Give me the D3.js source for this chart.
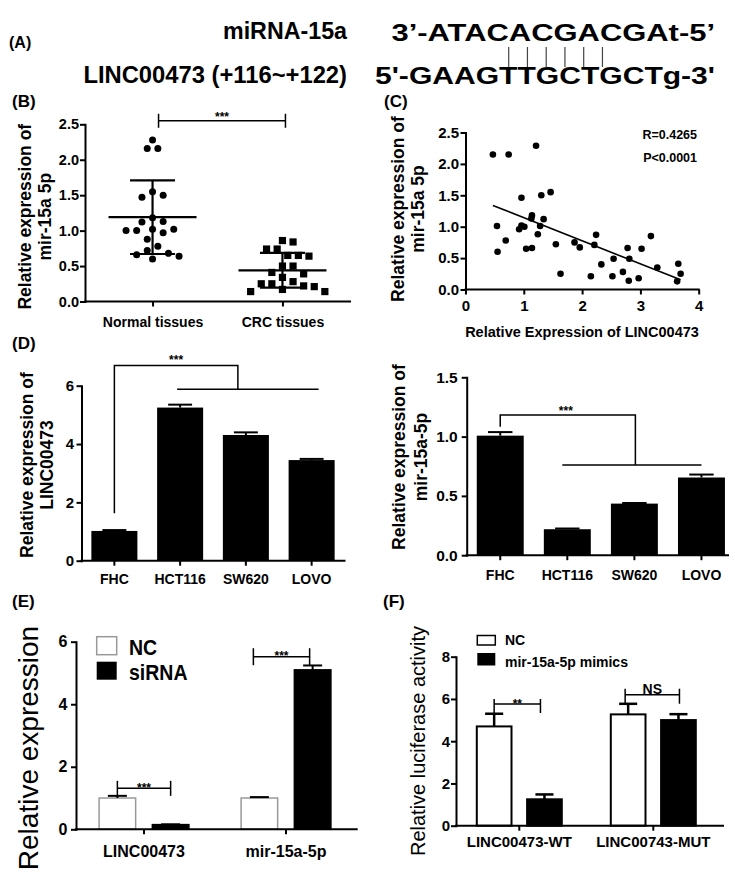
<!DOCTYPE html>
<html><head><meta charset="utf-8">
<script src="https://cdn.jsdelivr.net/npm/d3@7"></script>
<style>body{margin:0;background:#fff}svg{display:block}</style>
</head><body><svg id="c" width="735" height="873"></svg>
<script>
// ---------------- DATA ----------------
const miRNALabel = "miRNA-15a";
const lincLabel = "LINC00473 (+116~+122)";
const miRNASeq = "3’-ATACACGACGAt-5’";
const lincSeq = "5'-GAAGTTGCTGCTg-3'";
const pairCount = 6;

const tissueGroups = ["Normal tissues", "CRC tissues"];
const normalTissues = [2.28,2.16,2.16,1.55,1.50,1.47,1.18,1.13,1.12,1.02,1.02,1.00,1.00,0.97,0.88,0.78,0.72,0.68,0.66,0.64,0.60];
const crcTissues = [0.86,0.84,0.74,0.74,0.65,0.65,0.64,0.50,0.50,0.41,0.39,0.34,0.28,0.25,0.25,0.22,0.21,0.17,0.14,0.14];
const tissueMeans = [1.19, 0.44];
const tissueSDs = [0.52, 0.245];
const bTicks = [0, 0.5, 1.0, 1.5, 2.0, 2.5];

const corrX = [0.47,0.74,1.21,0.96,1.30,1.46,1.14,1.13,1.34,0.54,0.92,0.96,1.01,1.28,0.69,1.24,0.55,1.04,1.14,1.55,1.87,1.96,1.63,2.21,2.24,2.33,2.15,2.52,2.54,2.78,2.81,2.70,2.80,2.97,3.02,3.18,3.29,3.65,3.69,3.63];
const corrY = [2.15,2.15,2.29,1.46,1.50,1.55,1.18,1.13,1.12,1.01,0.96,1.02,1.00,1.01,0.78,0.88,0.60,0.65,0.66,0.72,0.75,0.67,0.25,0.71,0.87,0.40,0.21,0.21,0.49,0.66,0.49,0.28,0.14,0.18,0.65,0.85,0.35,0.41,0.25,0.13];
const fitSlope = -0.368, fitIntercept = 1.512;
const corrStats = ["R=0.4265", "P<0.0001"];
const cXTicks = [0,1,2,3,4];
const cYTicks = [0,0.5,1.0,1.5,2.0,2.5];

const cellLines = ["FHC","HCT116","SW620","LOVO"];
const lincExpr = [1.02, 5.25, 4.31, 3.45];
const lincErr  = [0.03, 0.10, 0.09, 0.04];
const mirExpr  = [1.008, 0.219, 0.435, 0.655];
const mirErr   = [0.03, 0.006, 0.005, 0.025];
const dLeftTicks = [0,2,4,6];
const dRightTicks = [0,0.5,1.0,1.5];

const eCategories = ["LINC00473","mir-15a-5p"];
const eSeries = ["NC","siRNA"];
const eNC = [1.0, 1.0], eNCErr = [0.07, 0.03];
const eSi = [0.15, 5.1], eSiErr = [0.01, 0.14];
const eTicks = [0,2,4,6];

const fCategories = ["LINC00473-WT","LINC00743-MUT"];
const fSeries = ["NC","mir-15a-5p mimics"];
const fNC = [4.7, 5.27], fNCErr = [0.6, 0.5];
const fMim = [1.25, 5.0], fMimErr = [0.23, 0.28];
const fTicks = [0,2,4,6,8];

// ---------------- HELPERS ----------------
const FONT = '"Liberation Sans", Arial, Helvetica, sans-serif';
const svg = d3.select("#c");
svg.append("rect").attr("width",735).attr("height",873).attr("fill","#fff");

function txt(g, x, y, s, fs, o = {}) {
  const t = g.append("text").attr("x",x).attr("y",y).text(s)
    .attr("font-size",fs).attr("font-family",FONT)
    .attr("font-weight", o.weight || "bold")
    .attr("text-anchor", o.anchor || "start").attr("fill","#000");
  if (o.len) t.attr("textLength",o.len).attr("lengthAdjust","spacingAndGlyphs");
  return t;
}
function vTitle(g, cx, cy, lines, fs, weight, gap) {
  lines.forEach((s,i) => {
    g.append("text").attr("transform",`translate(${cx + i*gap},${cy}) rotate(-90)`)
      .attr("text-anchor","middle").attr("dy","0.35em")
      .attr("font-size",fs).attr("font-family",FONT).attr("font-weight",weight)
      .attr("fill","#000").text(s);
  });
}
function styleAxis(a, fs) {
  a.attr("font-family",FONT).attr("font-size",fs).attr("font-weight","bold");
  a.selectAll("line").attr("stroke","#000").attr("stroke-width",2);
  a.selectAll(".domain").attr("stroke","#000").attr("stroke-width",2).attr("stroke-linecap","square");
  a.selectAll("text").attr("fill","#000");
}
function leftAxis(g, y, x, ticks, fmt, fs, pad) {
  const a = g.append("g").attr("transform",`translate(${x},0)`)
    .call(d3.axisLeft(y).tickValues(ticks).tickFormat(fmt).tickSize(5).tickSizeOuter(0).tickPadding(pad));
  styleAxis(a, fs);
}
function bottomAxis(g, gen, yPix, x0, x1, fs, pad) {
  const a = g.append("g").attr("transform",`translate(0,${yPix})`)
    .call(gen.tickSize(5).tickSizeOuter(0).tickPadding(pad));
  a.select(".domain").remove();
  a.append("line").attr("x1",x0).attr("x2",x1).attr("y1",0).attr("y2",0).attr("stroke-linecap","square");
  styleAxis(a, fs);
}
function line(g, x1, y1, x2, y2, sw = 2, col = "#000") {
  g.append("line").attr("x1",x1).attr("y1",y1).attr("x2",x2).attr("y2",y2)
    .attr("stroke",col).attr("stroke-width",sw);
}
function errBar(g, cx, yTop, yErr, capW, sw) {
  line(g, cx, yTop, cx, yErr, sw);
  line(g, cx - capW/2, yErr, cx + capW/2, yErr, sw);
}
function swarm(values, y, cx, step, minDist) {
  const placed = [], res = new Array(values.length);
  const order = values.map((v,i)=>i).sort((a,b)=>values[b]-values[a]);
  for (const i of order) {
    const py = y(values[i]);
    for (let k = 0; k < 60; k++) {
      const off = k === 0 ? 0 : (k % 2 ? Math.ceil(k/2) : -k/2) * step;
      const px = cx + off;
      if (placed.every(p => Math.hypot(p[0]-px, p[1]-py) >= minDist)) {
        placed.push([px,py]); res[i] = [px,py]; break;
      }
    }
  }
  return res;
}
function star(g, x, baseline, s, fs = 12) { txt(g, x, baseline, s, fs, {anchor:"middle"}); }

// ---------------- PANEL A ----------------
const gA = svg.append("g");
txt(gA, 9, 48, "(A)", 16);
txt(gA, 223, 39, miRNALabel, 24, {len:124});
txt(gA, 391.5, 41, miRNASeq, 24, {len:323.5});
txt(gA, 83.4, 83, lincLabel, 23, {len:263.6});
txt(gA, 375, 84.4, lincSeq, 23, {len:340});
d3.range(pairCount).forEach(i => {
  const x = 508.7 + i * 18.75;
  line(gA, x, 47, x, 67, 1.2, "#444");
});

// ---------------- PANEL B ----------------
const gB = svg.append("g");
txt(gB, 12, 107.4, "(B)", 17);
const yB = d3.scaleLinear().domain([0,2.5]).range([301.5,124.3]);
const xB = d3.scalePoint().domain(tissueGroups).range([85,350]).padding(0.52);
leftAxis(gB, yB, 85, bTicks, d3.format(".1f"), 14.5, 1);
bottomAxis(gB, d3.axisBottom(xB), 301.5, 85, 350, 14, 10.6);
vTitle(gB, 25, 216.7, ["Relative expression of","mir-15a 5p"], 17.5, "bold", 20);
swarm(normalTissues, yB, xB(tissueGroups[0]), 5.3, 10).forEach(p =>
  gB.append("circle").attr("cx",p[0]).attr("cy",p[1]).attr("r",3.5).attr("fill","#000"));
swarm(crcTissues, yB, xB(tissueGroups[1]), 5.3, 10).forEach(p =>
  gB.append("rect").attr("x",p[0]-3.6).attr("y",p[1]-3.6).attr("width",7.2).attr("height",7.2).attr("fill","#000"));
tissueGroups.forEach((grp,i) => {
  const cx = xB(grp), m = tissueMeans[i], s = tissueSDs[i];
  line(gB, cx-44, yB(m), cx+44, yB(m), 2.2);
  line(gB, cx, yB(m-s), cx, yB(m+s), 2.2);
  line(gB, cx-22.5, yB(m-s), cx+22.5, yB(m-s), 2.2);
  line(gB, cx-22.5, yB(m+s), cx+22.5, yB(m+s), 2.2);
});
{
  const by = yB(2.55), bx1 = xB(tissueGroups[0]) + 6, bx2 = xB(tissueGroups[1]) + 3;
  line(gB, bx1, by, bx2, by, 1.5);
  line(gB, bx1, by-7, bx1, by+7, 1.5);
  line(gB, bx2, by-7, bx2, by+7, 1.5);
  star(gB, (bx1+bx2)/2, by, "***");
}

// ---------------- PANEL C ----------------
const gC = svg.append("g");
txt(gC, 384, 107.4, "(C)", 17);
const xC = d3.scaleLinear().domain([0,4]).range([465.5,698.7]);
const yC = d3.scaleLinear().domain([0,2.5]).range([289.5,132.5]);
leftAxis(gC, yC, 465.5, cYTicks, d3.format(".1f"), 15, 1.5);
bottomAxis(gC, d3.axisBottom(xC).tickValues(cXTicks).tickFormat(d3.format("d")), 289.5, 465.5, 698.7, 15, 6.2);
vTitle(gC, 398.3, 209, ["Relative expression of","mir-15a 5p"], 17.5, "bold", 20);
txt(gC, 582, 337.2, "Relative Expression of LINC00473", 14.5, {anchor:"middle"});
corrX.forEach((xv,i) =>
  gC.append("circle").attr("cx",xC(xv)).attr("cy",yC(corrY[i])).attr("r",3.3).attr("fill","#000"));
{
  const [x0,x1] = d3.extent(corrX);
  line(gC, xC(x0), yC(fitIntercept + fitSlope*x0), xC(x1), yC(fitIntercept + fitSlope*x1), 1.6);
}
txt(gC, 697, 138.5, corrStats[0], 12.5, {anchor:"end"});
txt(gC, 697, 161.5, corrStats[1], 12.5, {anchor:"end"});

// ---------------- PANEL D (left) ----------------
const gD = svg.append("g");
txt(gD, 12, 349, "(D)", 17);
const xDL = d3.scaleBand().domain(cellLines).range([81.5,344.5]).paddingInner(0.3).paddingOuter(0.15);
const yDL = d3.scaleLinear().domain([0,6]).range([560.7,385.7]);
cellLines.forEach((c,i) => {
  gD.append("rect").attr("x",xDL(c)).attr("y",yDL(lincExpr[i])).attr("width",xDL.bandwidth())
    .attr("height",yDL(0)-yDL(lincExpr[i])).attr("fill","#000");
  errBar(gD, xDL(c)+xDL.bandwidth()/2, yDL(lincExpr[i]), yDL(lincExpr[i]+lincErr[i]), xDL.bandwidth()*0.52, 2);
});
leftAxis(gD, yDL, 81.5, dLeftTicks, d3.format("d"), 15, 2.5);
bottomAxis(gD, d3.axisBottom(xDL), 560.7, 81.5, 344.5, 14, 8.4);
vTitle(gD, 26.7, 465, ["Relative expression of","LINC00473"], 17.5, "bold", 20);
{
  const c = d => xDL(d) + xDL.bandwidth()/2;
  const y1 = yDL(6.69), y2 = yDL(5.88);
  const xl = c("FHC"), xr = c("SW620") - 8;
  gD.append("path").attr("d",`M${xl},${yDL(1.63)}V${y1}H${xr}V${y2}`).attr("fill","none").attr("stroke","#000").attr("stroke-width",1.5);
  line(gD, c("HCT116") - 3, y2, c("LOVO") + 7, y2, 1.5);
  star(gD, (xl+xr)/2, y1 - 2, "***");
}

// ---------------- PANEL D (right) ----------------
const gD2 = svg.append("g");
const xDR = d3.scaleBand().domain(cellLines).range([466.7,735]).paddingInner(0.3).paddingOuter(0.15);
const yDR = d3.scaleLinear().domain([0,1.5]).range([555.2,377.3]);
cellLines.forEach((c,i) => {
  gD2.append("rect").attr("x",xDR(c)).attr("y",yDR(mirExpr[i])).attr("width",xDR.bandwidth())
    .attr("height",yDR(0)-yDR(mirExpr[i])).attr("fill","#000");
  errBar(gD2, xDR(c)+xDR.bandwidth()/2, yDR(mirExpr[i]), yDR(mirExpr[i]+mirErr[i]), xDR.bandwidth()*0.52, 2);
});
leftAxis(gD2, yDR, 466.7, dRightTicks, d3.format(".1f"), 15.5, 4);
bottomAxis(gD2, d3.axisBottom(xDR), 555.2, 466.7, 728, 14, 9.9);
vTitle(gD2, 399, 457, ["Relative expression of","mir-15a-5p"], 17.5, "bold", 21.5);
{
  const c = d => xDR(d) + xDR.bandwidth()/2;
  const y1 = yDR(1.182), y2 = yDR(0.76);
  const xl = c("FHC"), xr = c("SW620") + 1;
  gD2.append("path").attr("d",`M${xl},${yDR(1.083)}V${y1}H${xr}V${y2}`).attr("fill","none").attr("stroke","#000").attr("stroke-width",1.5);
  line(gD2, c("HCT116") - 5, y2, c("LOVO"), y2, 1.5);
  star(gD2, (xl+xr)/2 - 2, y1, "***");
}

// ---------------- PANEL E ----------------
const gE = svg.append("g");
txt(gE, 12, 607.4, "(E)", 17);
const x0E = d3.scaleBand().domain(eCategories).range([73,357]);
const x1E = d3.scaleBand().domain(eSeries).range([0,x0E.bandwidth()]).paddingInner(0.314).paddingOuter(0.49);
const yE = d3.scaleLinear().domain([0,6]).range([829.3,641.7]);
const eVals = [eNC, eSi], eErrs = [eNCErr, eSiErr];
eCategories.forEach((cat,ci) => {
  eSeries.forEach((s,si) => {
    const v = eVals[si][ci], x = x0E(cat) + x1E(s), bw = x1E.bandwidth();
    gE.append("rect").attr("x",x).attr("y",yE(v)).attr("width",bw).attr("height",yE(0)-yE(v))
      .attr("fill", si ? "#000" : "#fff").attr("stroke", si ? "#000" : "#999").attr("stroke-width",1.5);
    errBar(gE, x + bw/2, yE(v), yE(v + eErrs[si][ci]), bw*0.52, 2);
  });
});
leftAxis(gE, yE, 76, eTicks, d3.format("d"), 16, 3.5);
bottomAxis(gE, d3.axisBottom(x0E), 829.3, 76, 356.7, 16, 11.8);
vTitle(gE, 28, 748, ["Relative expression"], 28, "normal", 0);
{
  const cen = (cat,s) => x0E(cat) + x1E(s) + x1E.bandwidth()/2;
  [[0,1.31,7.5],[1,5.52,8.5]].forEach(([ci,lv,h]) => {
    const cat = eCategories[ci], y = yE(lv);
    const xa = cen(cat,"NC") - (ci ? 6 : 0), xb = cen(cat,"siRNA") - (ci ? 3 : 0);
    line(gE, xa, y, xb, y, 1.5);
    line(gE, xa, y-h, xa, y+h, 1.5);
    line(gE, xb, y-h, xb, y+h, 1.5);
    star(gE, (xa+xb)/2, y + 3.5, "***");
  });
  // legend
  gE.append("rect").attr("x",96.7).attr("y",636.7).attr("width",20).attr("height",18).attr("fill","#fff").attr("stroke","#999").attr("stroke-width",1.5);
  gE.append("rect").attr("x",96.7).attr("y",661.7).attr("width",20).attr("height",18).attr("fill","#000");
  [[eSeries[0],655],[eSeries[1],680]].forEach(([s,b]) => {
    gE.append("text").attr("transform",`translate(129,${b}) scale(1,1.15)`).attr("font-family",FONT)
      .attr("font-size",19.5).attr("font-weight","bold").attr("fill","#000").text(s);
  });
}

// ---------------- PANEL F ----------------
const gF = svg.append("g");
txt(gF, 383, 607.4, "(F)", 17);
const x0F = d3.scaleBand().domain(fCategories).range([452.3,720.3]);
const x1F = d3.scaleBand().domain(fSeries).range([0,x0F.bandwidth()]).paddingInner(0.31).paddingOuter(0.487);
const yF = d3.scaleLinear().domain([0,8]).range([825.7,656.7]);
const fVals = [fNC, fMim], fErrs = [fNCErr, fMimErr];
fCategories.forEach((cat,ci) => {
  fSeries.forEach((s,si) => {
    const v = fVals[si][ci], x = x0F(cat) + x1F(s), bw = x1F.bandwidth();
    gF.append("rect").attr("x",x).attr("y",yF(v)).attr("width",bw).attr("height",yF(0)-yF(v))
      .attr("fill", si ? "#000" : "#fff").attr("stroke","#000").attr("stroke-width",2);
    errBar(gF, x + bw/2, yF(v), yF(v + fErrs[si][ci]), bw*0.52, 2.5);
  });
});
leftAxis(gF, yF, 456, fTicks, d3.format("d"), 15, 1);
bottomAxis(gF, d3.axisBottom(x0F), 825.7, 456, 723, 15, 5.7);
vTitle(gF, 418, 741, ["Relative luciferase activity"], 20, "normal", 0);
{
  const cen = (cat,s) => x0F(cat) + x1F(s) + x1F.bandwidth()/2;
  const b1y = yF(5.76), b2y = yF(6.2);
  let xa = cen(fCategories[0], fSeries[0]), xb = cen(fCategories[0], fSeries[1]) - 4;
  line(gF, xa, b1y, xb, b1y, 1.5); line(gF, xa, b1y-5, xa, b1y+9, 1.5); line(gF, xb, b1y-5, xb, b1y+9, 1.5);
  star(gF, (xa+xb)/2, b1y + 4, "**");
  xa = cen(fCategories[1], fSeries[0]) - 3; xb = cen(fCategories[1], fSeries[1]) + 1;
  line(gF, xa, b2y, xb, b2y, 1.5); line(gF, xa, b2y-6, xa, b2y+9, 1.5); line(gF, xb, b2y-6, xb, b2y+9, 1.5);
  txt(gF, (xa+xb)/2, b2y - 0.5, "NS", 14, {anchor:"middle"});
  // legend
  gF.append("rect").attr("x",477.3).attr("y",635.5).attr("width",18).attr("height",9.5).attr("fill","#fff").attr("stroke","#000").attr("stroke-width",1.5);
  gF.append("rect").attr("x",477.3).attr("y",653).attr("width",18).attr("height",12.5).attr("fill","#000");
  txt(gF, 505, 645, fSeries[0], 14);
  txt(gF, 505, 666.5, fSeries[1], 14);
}
</script></body></html>
